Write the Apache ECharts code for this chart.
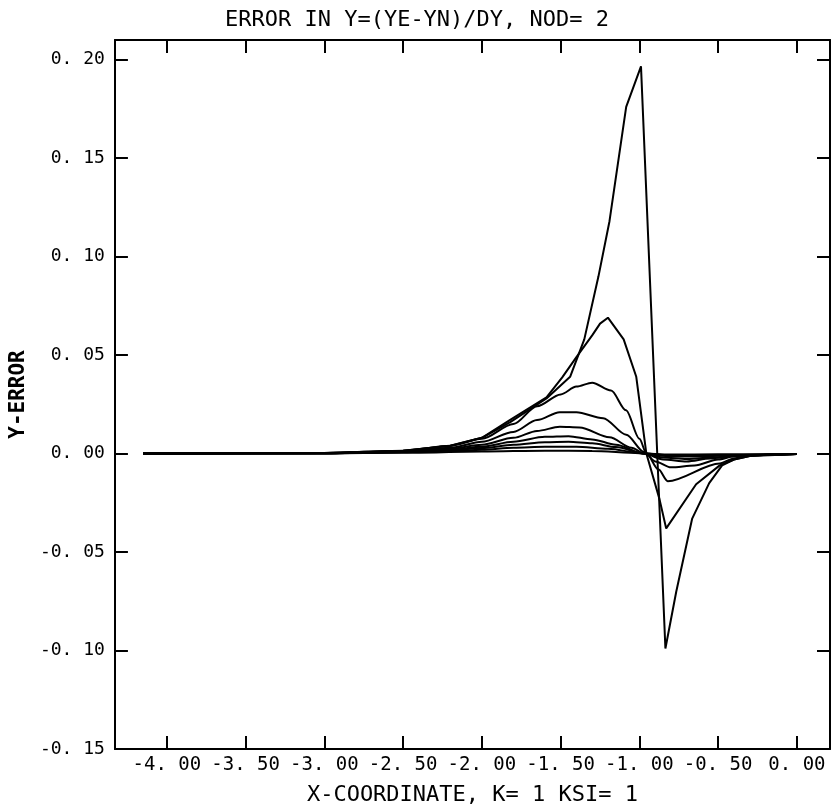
<!DOCTYPE html>
<html>
<head>
<meta charset="utf-8">
<script src="https://cdn.jsdelivr.net/npm/echarts@6/dist/echarts.min.js"></script>
<style>html,body{margin:0;padding:0;background:#fff}#c{width:834px;height:811px}</style>
</head>
<body>
<div id="c"></div>
<script>
const titleText = 'ERROR IN Y=(YE-YN)/DY, NOD= 2';
const xName = 'X-COORDINATE, K= 1 KSI= 1';
const yName = 'Y-ERROR';
const xTicks = [-4.0, -3.5, -3.0, -2.5, -2.0, -1.5, -1.0, -0.5, 0.0];
const yTicks = [-0.15, -0.10, -0.05, 0.00, 0.05, 0.10, 0.15, 0.20];

const curve1 = [[-4.15,0],[-3.0,0.0003],[-2.5,0.0015],[-2.2,0.004],[-2.0,0.008],[-1.82,0.016],[-1.59,0.028],[-1.44,0.039],[-1.35,0.058],[-1.26,0.09],[-1.19,0.118],[-1.084,0.176],[-0.99,0.1966],[-0.835,-0.099],[-0.766,-0.07],[-0.665,-0.033],[-0.557,-0.015],[-0.475,-0.006],[-0.4,-0.003],[-0.3,-0.0012],[-0.15,-0.0004],[0,-0.0002]];
const curve2 = [[-4.15,0],[-3.0,0.0003],[-2.5,0.0015],[-2.2,0.004],[-2.0,0.008],[-1.823,0.017],[-1.59,0.0286],[-1.49,0.0387],[-1.4,0.049],[-1.3,0.060],[-1.25,0.066],[-1.2,0.069],[-1.1,0.058],[-1.02,0.039],[-0.956,0.0],[-0.873,-0.023],[-0.83,-0.038],[-0.64,-0.0156],[-0.49,-0.006],[-0.4,-0.003],[-0.3,-0.0012],[-0.15,-0.0004],[0,-0.0002]];
const curve3 = [[-4.15,0],[-3.0,0.0003],[-2.5,0.0015],[-2.2,0.004],[-2.0,0.0075],[-1.8,0.015],[-1.65,0.024],[-1.5,0.030],[-1.4,0.034],[-1.3,0.036],[-1.18,0.032],[-1.085,0.022],[-1.0,0.0075],[-0.955,0.0],[-0.88,-0.008],[-0.82,-0.014],[-0.49,-0.005],[-0.4,-0.0025],[-0.3,-0.001],[0,-0.0002]];
const curve4 = [[-4.15,0],[-3.0,0.0002],[-2.5,0.0012],[-2.2,0.003],[-2.0,0.006],[-1.8,0.011],[-1.65,0.017],[-1.506,0.021],[-1.40,0.021],[-1.23,0.018],[-1.084,0.0096],[-0.97,0.0008],[-0.9,-0.004],[-0.8,-0.007],[-0.65,-0.006],[-0.5,-0.003],[-0.4,-0.0015],[-0.3,-0.0007],[0,-0.0002]];
const curve5 = [[-4.15,0],[-3.0,0.0002],[-2.5,0.001],[-2.2,0.0025],[-2.0,0.0045],[-1.8,0.008],[-1.65,0.0115],[-1.506,0.0136],[-1.38,0.0133],[-1.19,0.0083],[-1.05,0.003],[-0.97,0.0],[-0.85,-0.003],[-0.7,-0.004],[-0.55,-0.0025],[-0.4,-0.001],[0,-0.0002]];
const curve6 = [[-4.15,0],[-3.0,0.0002],[-2.5,0.0009],[-2.2,0.002],[-2.0,0.0035],[-1.8,0.006],[-1.6,0.0085],[-1.45,0.0088],[-1.3,0.0072],[-1.15,0.0045],[-0.97,0.0],[-0.85,-0.002],[-0.7,-0.0028],[-0.5,-0.0018],[-0.3,-0.0006],[0,-0.0002]];
const curve7 = [[-4.15,0],[-3.0,0.0002],[-2.5,0.0008],[-2.2,0.0017],[-2.0,0.0028],[-1.8,0.0045],[-1.6,0.0058],[-1.45,0.006],[-1.3,0.0052],[-1.15,0.0033],[-0.97,0.0],[-0.8,-0.0015],[-0.6,-0.0015],[-0.4,-0.0008],[0,-0.0002]];
const curve8 = [[-4.15,0],[-3.0,0.0002],[-2.5,0.0007],[-2.2,0.0014],[-2.0,0.002],[-1.8,0.003],[-1.6,0.0035],[-1.4,0.0035],[-1.2,0.0025],[-0.97,0.0],[-0.8,-0.001],[-0.5,-0.0008],[0,-0.0002]];
const curve9 = [[-4.15,0],[-3.0,0.0001],[-2.5,0.0004],[-2.0,0.001],[-1.6,0.0015],[-1.3,0.0013],[-1.0,0.0002],[-0.8,-0.0005],[-0.5,-0.0004],[0,-0.0002]];
const curves = [curve1, curve2, curve3, curve4, curve5, curve6, curve7, curve8, curve9];

const FONT = 'DejaVu Sans Mono';
const fmt = v => {
  const s = (Math.abs(v) < 1e-9 ? 0 : v).toFixed(2);
  return s.replace('.', '. ');
};
const lineCol = '#000';
const axisLineStyle = {show: true, onZero: false, lineStyle: {color: lineCol, width: 2}};
const tickStyle = (vals) => ({show: true, inside: true, length: 13, customValues: vals, lineStyle: {color: lineCol, width: 2}});

const chart = echarts.init(document.getElementById('c'), null, {renderer: 'canvas'});
chart.setOption({
  animation: false,
  backgroundColor: '#fff',
  title: {
    text: titleText, left: 'center', top: 4,
    textStyle: {fontFamily: FONT, fontSize: 22, fontWeight: 'normal', color: '#000'}
  },
  grid: {left: 113, right: 4, top: 40, bottom: 59, containLabel: false},
  xAxis: [{
    type: 'value', min: -4.33, max: 0.21, position: 'bottom',
    axisLine: axisLineStyle, axisTick: tickStyle(xTicks), splitLine: {show: false},
    axisLabel: {customValues: xTicks, formatter: fmt, fontFamily: FONT, fontSize: 19, color: '#000', margin: 7},
    name: xName, nameLocation: 'middle', nameGap: 35,
    nameTextStyle: {fontFamily: FONT, fontSize: 22, color: '#000'}
  }, {
    type: 'value', min: -4.33, max: 0.21, position: 'top',
    axisLine: axisLineStyle, axisTick: tickStyle(xTicks), splitLine: {show: false},
    axisLabel: {show: false}
  }],
  yAxis: [{
    type: 'value', min: -0.15, max: 0.21, position: 'left',
    axisLine: axisLineStyle, axisTick: tickStyle(yTicks), splitLine: {show: false},
    axisLabel: {customValues: yTicks, formatter: fmt, fontFamily: FONT, fontSize: 18, color: '#000', margin: 10},
    name: yName, nameLocation: 'middle', nameGap: 85, nameRotate: 90,
    nameTextStyle: {fontFamily: FONT, fontSize: 21, fontWeight: 'bold', color: '#000'}
  }, {
    type: 'value', min: -0.15, max: 0.21, position: 'right',
    axisLine: axisLineStyle, axisTick: tickStyle(yTicks), splitLine: {show: false},
    axisLabel: {show: false}
  }],
  series: curves.map((d, i) => ({
    type: 'line', data: d, xAxisIndex: 0, yAxisIndex: 0,
    showSymbol: false, symbol: 'none',
    smooth: i < 2 ? false : 0.3, smoothMonotone: 'x',
    lineStyle: {color: lineCol, width: 2},
    silent: true
  }))
});
</script>
</body>
</html>
